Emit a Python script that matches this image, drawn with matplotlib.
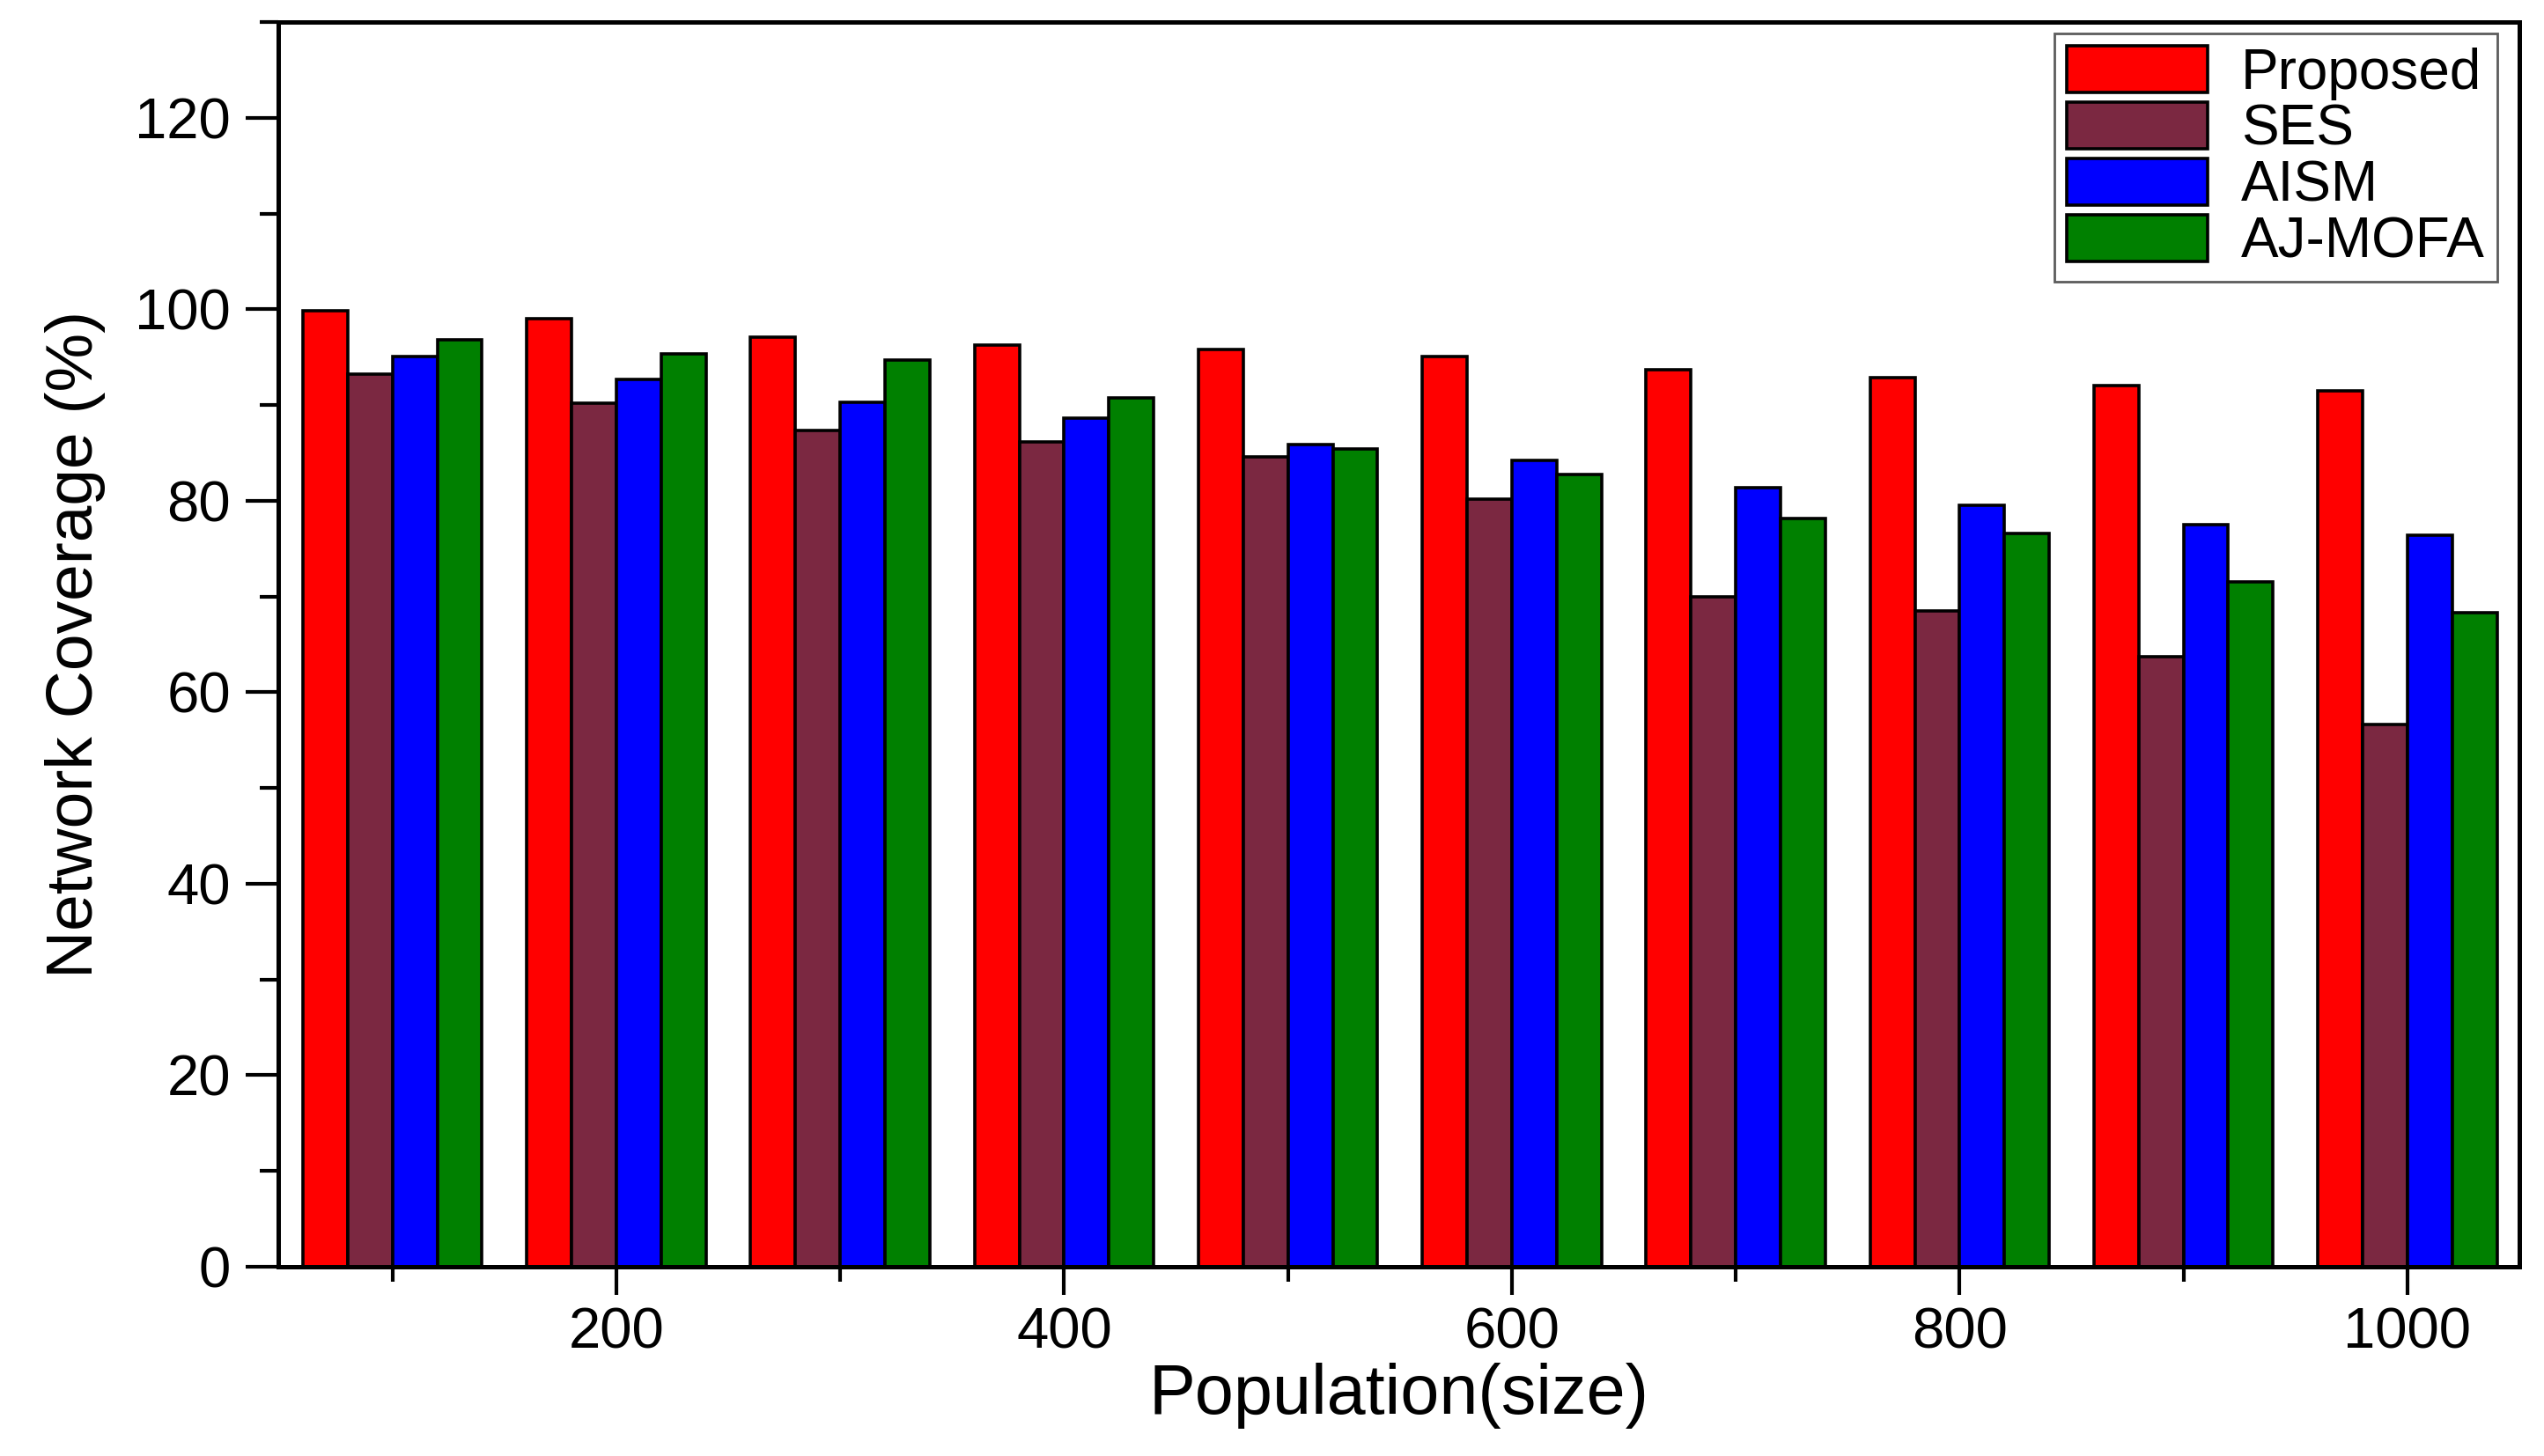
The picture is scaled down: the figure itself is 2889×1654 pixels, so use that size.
import numpy as np
import matplotlib
matplotlib.use('Agg')
import matplotlib.pyplot as plt
from matplotlib.ticker import MultipleLocator, FixedLocator

plt.rcParams['font.family'] = ['Liberation Sans', 'DejaVu Sans']

# Datos
poblacion = [100, 200, 300, 400, 500, 600, 700, 800, 900, 1000]
proposed = [99.8, 99.0, 97.1, 96.3, 95.8, 95.1, 93.7, 92.9, 92.0, 91.5]
ses = [93.2, 90.2, 87.3, 86.1, 84.6, 80.2, 70.0, 68.5, 63.7, 56.6]
aism = [95.1, 92.7, 90.3, 88.6, 85.9, 84.2, 81.4, 79.5, 77.5, 76.4]
ajmofa = [96.8, 95.3, 94.7, 90.7, 85.4, 82.7, 78.1, 76.6, 71.5, 68.3]

series = [proposed, ses, aism, ajmofa]
nombres = ['Proposed', 'SES', 'AISM', 'AJ-MOFA']
colores = ['#FF0000', '#7B2841', '#0000FF', '#008000']

fig = plt.figure(figsize=(28.89, 16.54), dpi=100)
ax = fig.add_axes([0.1094, 0.13, 0.8809, 0.8549])

ancho = 20
x = np.array(poblacion)
for i in range(len(series)):
    ax.bar(x + (i - 1.5) * ancho, series[i], width=ancho, color=colores[i],
           edgecolor='black', linewidth=2.6, label=nombres[i])

ax.set_xlim(49, 1050)
ax.set_ylim(0, 130)

ax.xaxis.set_major_locator(FixedLocator([200, 400, 600, 800, 1000]))
ax.xaxis.set_minor_locator(FixedLocator([100, 300, 500, 700, 900]))
ax.yaxis.set_major_locator(MultipleLocator(20))
ax.yaxis.set_minor_locator(MultipleLocator(10))

ax.tick_params(axis='both', which='both', direction='out', top=False, right=False,
               width=3, labelsize=47)
ax.tick_params(axis='x', which='major', length=23, pad=10)
ax.tick_params(axis='x', which='minor', length=12)
ax.tick_params(axis='y', which='major', length=27, pad=12)
ax.tick_params(axis='y', which='minor', length=15)

for s in ax.spines.values():
    s.set_linewidth(3.6)

ax.set_xlabel('Population(size)', fontsize=57, labelpad=2)
ax.set_ylabel('Network Coverage (%)', fontsize=54, labelpad=24)

leg = ax.legend(loc='upper right', bbox_to_anchor=(0.9902, 0.9908), borderaxespad=0,
                fontsize=46, fancybox=False, handlelength=2.5, handleheight=0.9,
                labelspacing=0.04, handletextpad=0.6, borderpad=0.22)
leg.get_frame().set_edgecolor('#333333')
leg.get_frame().set_linewidth(2)

fig.savefig('out.png', dpi=100)
